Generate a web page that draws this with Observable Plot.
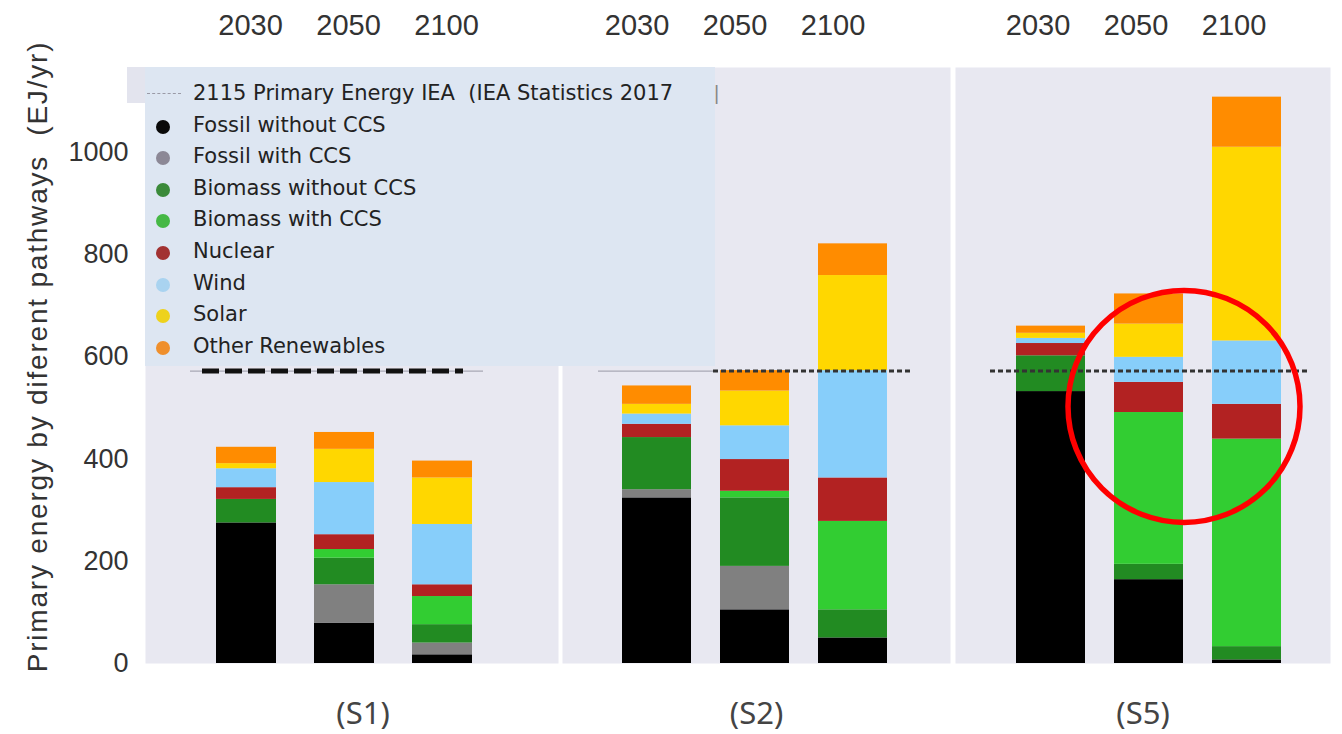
<!DOCTYPE html>
<html>
<head>
<meta charset="utf-8">
<script src="https://cdn.jsdelivr.net/npm/d3@7"></script>
<script src="https://cdn.jsdelivr.net/npm/@observablehq/plot@0.6"></script>
<style>
  html, body { margin: 0; padding: 0; background: #ffffff; }
  #wrap { position: relative; width: 1342px; height: 734px; overflow: hidden; font-family: "Liberation Sans", Arial, sans-serif; }
  .panel { position: absolute; top: 0; }
  .panel svg { display: block; }
  #legend { position: absolute; left: 145px; top: 67px; width: 570px; height: 299px; background: #dde6f2; }
  #legendTop { position: absolute; left: 127px; top: 67px; width: 300px; height: 36px; background: #e3e4ee; }
  .lrow { position: absolute; left: 0; height: 30px; font-size: 21px; color: #222; line-height: 30px; white-space: nowrap;
          font-family: "DejaVu Sans", Verdana, sans-serif; }
  .lrow .mk { position: absolute; left: 11px; top: 10px; width: 14px; height: 14px; border-radius: 50%; }
  .lrow .tx { position: absolute; left: 48px; top: 0; }
  .lrow .ln { position: absolute; left: 2px; top: 15px; width: 34px; border-top: 1.5px dashed #9a9aa6; }
  #stray { position: absolute; left: 714px; top: 82px; font-size: 20px; color: #888; }
</style>
</head>
<body>
<div id="wrap"></div>
<script>
// ---------- data ----------
const scenarios = ["S1", "S2", "S5"];
const scenarioLabels = ["(S1)", "(S2)", "(S5)"];
const years = ["2030", "2050", "2100"];
const sources = ["Fossil without CCS", "Fossil with CCS", "Biomass without CCS", "Biomass with CCS",
                 "Nuclear", "Wind", "Solar", "Other Renewables"];
const sourceColors = ["#000000", "#808080", "#228b22", "#32cd32", "#b22222", "#87cefa", "#ffd700", "#ff8c00"];
const legendColors = ["#0a0a0a", "#8c8896", "#3a8a3a", "#45b845", "#a23232", "#a9d3f0", "#eed21c", "#ef8f2c"];
// values per source: S1 2030, S1 2050, S1 2100, S2 2030, S2 2050, S2 2100, S5 2030, S5 2050, S5 2100 (EJ/yr)
const fossilNoCCS   = [275,  79,  17, 324, 105,  50, 532, 164,   7];
const fossilCCS     = [  0,  75,  23,  16,  85,   0,   0,   0,   0];
const biomassNoCCS  = [ 46,  52,  36, 102, 134,  55,  70,  30,  26];
const biomassCCS    = [  0,  17,  55,   0,  13, 173,   0, 297, 406];
const nuclear       = [ 23,  29,  23,  26,  62,  85,  24,  59,  68];
const wind          = [ 37, 102, 118,  20,  66, 210,  10,  49, 124];
const solar         = [ 10,  65,  91,  19,  68, 186,  10,  65, 379];
const otherRenew    = [ 32,  33,  33,  36,  40,  62,  14,  59,  98];
const ieaPrimaryEnergy = 572;       // "2115 Primary Energy IEA" reference level
const legendTitle = "2115 Primary Energy IEA &nbsp;(IEA Statistics 2017";
const yLabel = "Primary energy by diferent pathways \u00a0(EJ/yr)";
const yTicks = [0, 200, 400, 600, 800, 1000];
const highlight = [{scenario: "S5", year: "2050", value: 503}];

const seriesValues = [fossilNoCCS, fossilCCS, biomassNoCCS, biomassCCS, nuclear, wind, solar, otherRenew];
const rows = [];
scenarios.forEach((s, i) => years.forEach((y, j) => sources.forEach((src, k) => {
  rows.push({scenario: s, year: y, source: src, value: seriesValues[k][i * 3 + j]});
})));

// ---------- layout per panel ----------
const panels = [
  {left: 0,   width: 560, ml: 145, mr: 2,  pi: 0.384, po: 0.78, align: 0.455, axDx: 4,   labDx: 11,
   rules: [{l: 45, r: 75, stroke: "#a8a8b4", w: 1.3, dash: null}, {l: 57, r: 95, stroke: "#111", w: 5, dash: "17,6"}]},
  {left: 560, width: 392, ml: 2,   mr: 2,  pi: 0.30,  po: 0.62, align: 0.49,  axDx: -20, labDx: 0,
   rules: [{l: 36, r: 237, stroke: "#a8a8b4", w: 1.3, dash: null}, {l: 151, r: 38, stroke: "#333", w: 3, dash: "5,3"}]},
  {left: 952, width: 390, ml: 3,   mr: 12, pi: 0.30,  po: 0.55, align: 0.555, axDx: -13, labDx: 0,
   rules: [{l: 35, r: 23, stroke: "#333", w: 3, dash: "5,3"}]}
];

const wrap = document.getElementById("wrap");

scenarios.forEach((scen, i) => {
  const p = panels[i];
  const data = rows.filter(d => d.scenario === scen);
  const marks = [
    Plot.frame({fill: "#e8e8f1", stroke: "none"}),
    Plot.barY(data, Plot.stackY({x: "year", y: "value", fill: "source", order: null})),
    ...p.rules.map(r => Plot.ruleY([ieaPrimaryEnergy], {
      stroke: r.stroke, strokeWidth: r.w, strokeDasharray: r.dash, insetLeft: r.l, insetRight: r.r
    })),
    Plot.axisX({anchor: "top", tickSize: 0, tickPadding: 33, fontSize: 29, fill: "#333", dx: p.axDx, label: null}),
    Plot.text([scenarioLabels[i]], {frameAnchor: "bottom", lineAnchor: "middle", dy: 51, dx: p.labDx, fontSize: 31,
      fill: "#444", fontFamily: "'Noto Sans', 'Open Sans', sans-serif"})
  ];
  if (i === 0) {
    marks.push(Plot.axisY({ticks: yTicks, tickFormat: d => String(d), tickSize: 0, tickPadding: 17, fontSize: 27, fill: "#333", label: null}));
    marks.push(Plot.text([yLabel], {frameAnchor: "left", textAnchor: "middle", lineAnchor: "middle",
      dx: -107, dy: -9, rotate: -90, fontSize: 28, fill: "#333"}));
  }
  const hl = highlight.filter(d => d.scenario === scen);
  if (hl.length) {
    marks.push(Plot.dot(hl, {x: "year", y: "value", r: 116, dx: 35, stroke: "#ff0000", strokeWidth: 5.5, fill: "none"}));
  }
  const chart = Plot.plot({
    width: p.width,
    height: 734,
    marginLeft: p.ml,
    marginRight: p.mr,
    marginTop: 67,
    marginBottom: 71,
    style: {background: "transparent", fontFamily: "'Liberation Sans', Arial, sans-serif", overflow: "visible"},
    x: {type: "band", domain: years, paddingInner: p.pi, paddingOuter: p.po, align: p.align, axis: null},
    y: {domain: [0, 1166], axis: null},
    color: {domain: sources, range: sourceColors},
    marks
  });
  if (i === 0) {
    chart.querySelectorAll("text").forEach(t => {
      if (t.textContent.startsWith("Primary")) t.style.letterSpacing = "1.8px";
    });
  }
  const div = document.createElement("div");
  div.className = "panel";
  div.style.left = p.left + "px";
  div.style.width = p.width + "px";
  div.appendChild(chart);
  wrap.appendChild(div);
});

// ---------- legend overlay ----------
const lt = document.createElement("div"); lt.id = "legendTop"; wrap.appendChild(lt);
const lg = document.createElement("div"); lg.id = "legend"; wrap.appendChild(lg);
const rowTop = (k) => 11 + k * 31.6;
{
  const r = document.createElement("div"); r.className = "lrow"; r.style.top = rowTop(0) + "px";
  r.innerHTML = `<span class="ln"></span><span class="tx">${legendTitle}</span>`;
  lg.appendChild(r);
}
sources.forEach((s, k) => {
  const r = document.createElement("div"); r.className = "lrow"; r.style.top = rowTop(k + 1) + "px";
  r.innerHTML = `<span class="mk" style="background:${legendColors[k]}"></span><span class="tx">${s}</span>`;
  lg.appendChild(r);
});
const st = document.createElement("div"); st.id = "stray"; st.textContent = "|"; wrap.appendChild(st);
</script>
</body>
</html>
